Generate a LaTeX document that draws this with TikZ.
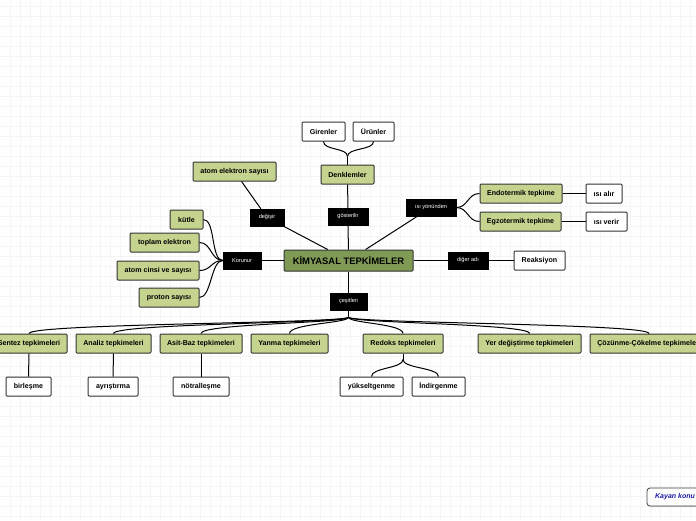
\documentclass[tikz,border=0pt]{standalone}
\usepackage{fontspec}
\setmainfont{Liberation Sans}
\usetikzlibrary{shadows}
\definecolor{topicgreen}{HTML}{C4D38E}
\definecolor{maingreen}{HTML}{7E9A55}
\definecolor{notblue}{HTML}{1A1AA8}

\begin{document}
\begin{tikzpicture}[x=1pt, y=-1pt,
        box/.style={draw=black!80, line width=1pt, rounded corners=1pt, inner sep=0pt, minimum height=19pt, font=\bfseries\fontsize{7.1}{8}\selectfont},
        topic/.style={box, fill=topicgreen},
        leaf/.style={box, fill=white},
        link/.style={draw=black, fill=black, text=white, inner sep=0pt, minimum height=17pt, font=\fontsize{5.6}{6}\selectfont},
        conn/.style={line width=1pt, black},
        gridline/.style={black!4, line width=0.5pt}
      ]
      \useasboundingbox (0,0) rectangle (696,520);
      \fill[white] (0,0) rectangle (696,520);
      \foreach \gx in {10,20,...,690} \draw[gridline] (\gx,0) -- (\gx,520);
      \foreach \gy in {6,16,...,516} \draw[gridline] (0,\gy) -- (696,\gy);

      % centre
      \node[box, fill=maingreen, minimum width=129pt, minimum height=21pt, font=\bfseries\fontsize{9.4}{11}\selectfont] (main) at (348.5,260.5) {KİMYASAL TEPKİMELER};

      % link labels
      \node[link, minimum width=34pt] (degisir) at (267,217.5) {değişir};
      \node[link, minimum width=40pt] (gosterilir) at (348,216.5) {gösterilir};
      \node[link, minimum width=50pt] (yonunden) at (431,207.5) {ısı yönünden};
      \node[link, minimum width=40pt] (digeradi) at (468,260.5) {diğer adı};
      \node[link, minimum width=38pt] (korunur) at (242,260.5) {Korunur};
      \node[link, minimum width=37pt] (cesitleri) at (348.5,301.5) {çeşitleri};

      % upper branch
      \node[topic, minimum width=53pt] (denklemler) at (347.5,174.5) {Denklemler};
      \node[leaf, minimum width=43pt] (girenler) at (323.5,131.5) {Girenler};
      \node[leaf, minimum width=41pt] (urunler) at (373.5,131.5) {Ürünler};
      \node[topic, minimum width=83pt] (atomelektron) at (234.5,171.5) {atom elektron sayısı};

      % right branch
      \node[topic, minimum width=82pt] (endo) at (521,193.5) {Endotermik tepkime};
      \node[topic, minimum width=81pt] (egzo) at (520.5,221.5) {Egzotermik tepkime};
      \node[leaf, minimum width=36pt] (isialir) at (604,193.5) {ısı alır};
      \node[leaf, minimum width=41pt] (isiverir) at (606.5,221.5) {ısı verir};
      \node[leaf, minimum width=51pt] (reaksiyon) at (539.5,260.5) {Reaksiyon};

      % left branch
      \node[topic, minimum width=33pt] (kutle) at (186.5,219.5) {kütle};
      \node[topic, minimum width=69pt] (toplam) at (164.5,242.5) {toplam elektron};
      \node[topic, minimum width=82pt] (atomcinsi) at (158,270.5) {atom cinsi ve sayısı};
      \node[topic, minimum width=60pt] (proton) at (169,297.5) {proton sayısı};

      % lower branch
      \node[topic, minimum width=76pt] (sentez) at (29,343.5) {Sentez tepkimeleri};
      \node[topic, minimum width=75pt] (analiz) at (113.5,343.5) {Analiz tepkimeleri};
      \node[topic, minimum width=82pt] (asitbaz) at (201,343.5) {Asit-Baz tepkimeleri};
      \node[topic, minimum width=77pt] (yanma) at (289.5,343.5) {Yanma tepkimeleri};
      \node[topic, minimum width=80pt] (redoks) at (403,343.5) {Redoks tepkimeleri};
      \node[topic, minimum width=103pt] (yerdegistirme) at (529.5,343.5) {Yer değiştirme tepkimeleri};
      \node[topic, minimum width=118pt] (cozunme) at (649,343.5) {Çözünme-Çökelme tepkimeleri};
      \node[leaf, minimum width=45pt] (birlesme) at (28.5,386.5) {birleşme};
      \node[leaf, minimum width=50pt] (ayristirma) at (113,386.5) {ayrıştırma};
      \node[leaf, minimum width=56pt] (notrallesme) at (201,386.5) {nötralleşme};
      \node[leaf, minimum width=63pt] (yukseltgenme) at (371.5,386.5) {yükseltgenme};
      \node[leaf, minimum width=53pt] (indirgenme) at (438.5,386.5) {İndirgenme};

      % floating topic
      \node[draw=black!75, line width=0.8pt, fill=white, rounded corners=3pt, drop shadow={opacity=0.3, shadow xshift=1pt, shadow yshift=-1pt}, minimum width=56pt, minimum height=18pt, inner sep=0pt, text=notblue, font=\bfseries\itshape\fontsize{7}{8}\selectfont] (kayan) at (675,497) {Kayan konu};

      % connectors
      \draw[conn] (main) -- (degisir);
      \draw[conn] (degisir) -- (atomelektron);
      \draw[conn] (main) -- (gosterilir);
      \draw[conn] (gosterilir) -- (denklemler);
      \draw[conn] (denklemler.north) -- ++(0,-8) coordinate (dj);
      \draw[conn] (dj) .. controls +(0,-9) and +(0,9) .. (girenler.south);
      \draw[conn] (dj) .. controls +(0,-9) and +(0,9) .. (urunler.south);
      \draw[conn] (main) -- (yonunden);
      \draw[conn] (yonunden.east) .. controls +(12,0) and +(-12,0) .. (endo.west);
      \draw[conn] (yonunden.east) .. controls +(12,0) and +(-12,0) .. (egzo.west);
      \draw[conn] (endo) -- (isialir);
      \draw[conn] (egzo) -- (isiverir);
      \draw[conn] (main) -- (digeradi);
      \draw[conn] (digeradi) -- (reaksiyon);
      \draw[conn] (main) -- (korunur);
      \foreach \leafname in {kutle, toplam, atomcinsi, proton}
        \draw[conn] (korunur.west) .. controls +(-12,0) and +(12,0) .. (\leafname.east);
      \draw[conn] (main) -- (cesitleri);
      \draw[conn] (cesitleri.south) -- ++(0,7) coordinate (cj);
      \foreach \leafname in {sentez, analiz, asitbaz, yanma, redoks, yerdegistirme, cozunme}
        \draw[conn] (cj) .. controls +(0,6) and +(0,-10) .. (\leafname.north);
      \draw[conn] (sentez) -- (birlesme);
      \draw[conn] (analiz) -- (ayristirma);
      \draw[conn] (asitbaz) -- (notrallesme);
      \draw[conn] (redoks.south) -- ++(0,6) coordinate (rj);
      \draw[conn] (rj) .. controls +(0,9) and +(0,-9) .. (yukseltgenme.north);
      \draw[conn] (rj) .. controls +(0,9) and +(0,-9) .. (indirgenme.north);
    \end{tikzpicture}
\end{document}
